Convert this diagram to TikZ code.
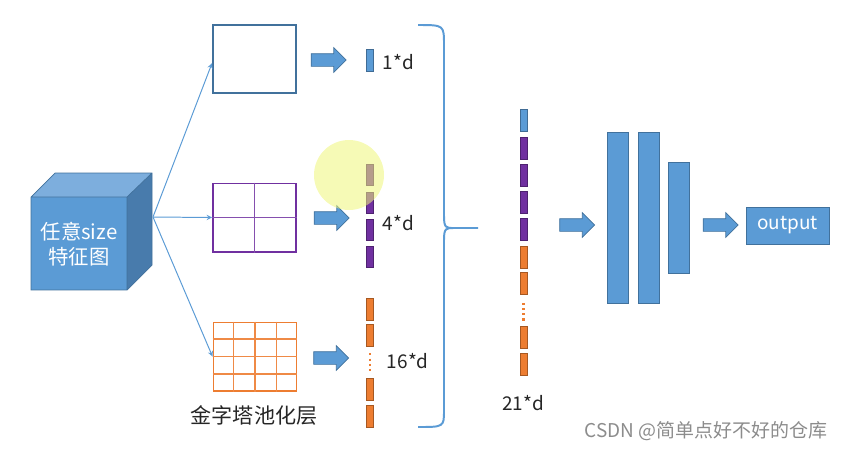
\documentclass[tikz,border=0pt]{standalone}
\usepackage{fontspec}
\setmainfont{Noto Sans CJK SC}
\usetikzlibrary{shapes.arrows,calc}
\definecolor{officeblue}{HTML}{5B9BD5}
\definecolor{edgeblue}{HTML}{41719C}
\definecolor{cubetop}{HTML}{7DAEDD}
\definecolor{cubeside}{HTML}{487BAC}
\definecolor{poolpurple}{HTML}{7030A0}
\definecolor{poolorange}{HTML}{ED7D31}
\definecolor{hilite}{HTML}{EEF57A}
\tikzset{
	lbl/.style={font=\fontsize{13.5}{16}\selectfont, text=black!85},
	poolbox/.style={draw, line width=1.4pt, minimum width=2.075cm, minimum height=1.7cm, inner sep=0pt},
	bar/.style={draw=#1!70!black, fill=#1, line width=0.5pt, minimum width=0.175cm, minimum height=0.55cm, inner sep=0pt},
	fcbar/.style={draw=edgeblue, fill=officeblue, line width=0.5pt, minimum width=0.525cm, inner sep=0pt},
	blockarrow/.style={single arrow, draw=edgeblue, fill=officeblue, line width=0.5pt, minimum height=0.875cm, inner xsep=0pt, inner ysep=0.15cm, single arrow head extend=0.15cm},
	thin/.style={draw=officeblue, line width=0.7pt},
	dots/.style={poolorange, line width=1.5pt, dash pattern=on 1.5pt off 2.2pt}
}
\begin{document}
\begin{tikzpicture}[x=0.025cm, y=-0.025cm, >=stealth]
	\useasboundingbox (0,0) rectangle (848,450);
	\fill[officeblue] (31,197) rectangle (127,290);
	\fill[cubetop] (31,197) -- (55,173) -- (152,173) -- (127,197) -- cycle;
	\fill[cubeside] (127,197) -- (152,173) -- (152,265) -- (127,290) -- cycle;
	\draw[edgeblue, line width=0.5pt] (31,197) -- (55,173) -- (152,173) -- (152,265) -- (127,290) -- (31,290) -- cycle (31,197) -- (127,197) -- (152,173) (127,197) -- (127,290);
	\node[lbl, text=white, align=center, font=\fontsize{14.5}{18}\selectfont] (fmap) at (79,244) {任意size\\特征图};
	\coordinate (fmapout) at (153,217);

	\node[poolbox, draw=edgeblue] (pool1) at (254.5,59) {};
	\node[poolbox, draw=poolpurple] (pool2) at (254.5,217.5) {};
	\node[poolbox, draw=poolorange] (pool3) at (255,356.5) {};
	\draw[poolpurple!85, line width=0.9pt] (pool2.north) -- (pool2.south) (pool2.west) -- (pool2.east);
	\foreach \i in {1,2,3}
		\draw[poolorange!90, line width=0.9pt] ($(pool3.north west)!\i/4!(pool3.north east)$) -- ($(pool3.south west)!\i/4!(pool3.south east)$)
			($(pool3.north west)!\i/4!(pool3.south west)$) -- ($(pool3.north east)!\i/4!(pool3.south east)$);
	\node[lbl, font=\fontsize{15}{18}\selectfont] (pyramid) at (254,415) {金字塔池化层};

	\draw[thin, ->] (fmapout) -- ([yshift=-3pt]pool1.west);
	\draw[thin, ->] (fmapout) -- (pool2.west);
	\draw[thin, ->] (fmapout) -- (pool3.west);

	\node[blockarrow] (arr1) at (325.5,60) {};
	\node[blockarrow] (arr2) at (328.5,218) {};
	\node[blockarrow] (arr3) at (328,358) {};

	\node[bar=officeblue] (one) at (370,60) {};
	\foreach \y [count=\i] in {175,202.5,229.5,257}
		\node[bar=poolpurple, minimum height=0.525cm] (four\i) at (370,\y) {};
	\foreach \y [count=\i] in {309,335,389,416}
		\node[bar=poolorange] (sixteen\i) at (370,\y) {};
	\draw[dots] (sixteen2.south) ++(0,7) -- ++(0,18);
	\fill[hilite, opacity=0.55] (349,175) circle (35);
	\node[lbl, anchor=west] (d1) at (378,62) {1*d};
	\node[lbl, anchor=west] (d4) at (378,223) {4*d};
	\node[lbl, anchor=west] (d16) at (382,361) {16*d};

	\coordinate (brtop) at (418,25);
	\coordinate (brtip) at (478,228);
	\coordinate (brbot) at (418,427);
	\draw[officeblue, line width=1.4pt] (brtop) .. controls (444,25) .. (444,45) -- (444,216) .. controls (444,228) and (446,228) .. (454,228) -- (brtip)
		(454,228) .. controls (446,228) and (444,228) .. (444,240) -- (444,410) .. controls (444,427) .. (brbot);

	\foreach \y/\c [count=\i] in {120.5/officeblue,148/poolpurple,175/poolpurple,202/poolpurple,229/poolpurple,257/poolorange,283.5/poolorange,337.5/poolorange,364.5/poolorange}
		\node[bar=\c] (vec\i) at (523.5,\y) {};
	\draw[dots] (vec7.south) ++(0,8) -- ++(0,18);
	\node[lbl] (d21) at (523,403) {21*d};

	\node[blockarrow] (arr4) at (574,225) {};
	\node[fcbar, minimum height=4.275cm] (fc1) at (617.5,217.5) {};
	\node[fcbar, minimum height=4.275cm] (fc2) at (648.5,217.5) {};
	\node[fcbar, minimum height=2.775cm] (fc3) at (678.5,217.5) {};
	\node[blockarrow] (arr5) at (717.5,225) {};
	\node[draw=edgeblue, fill=officeblue, line width=0.5pt, minimum width=2.075cm, minimum height=0.925cm, text=white, font=\fontsize{13.5}{16}\selectfont] (out) at (787.5,225.5) {output};

	\node[font=\fontsize{13.5}{15}\selectfont, text=black!45] (mark) at (706,431) {CSDN @简单点好不好的仓库};
\end{tikzpicture}
\end{document}
